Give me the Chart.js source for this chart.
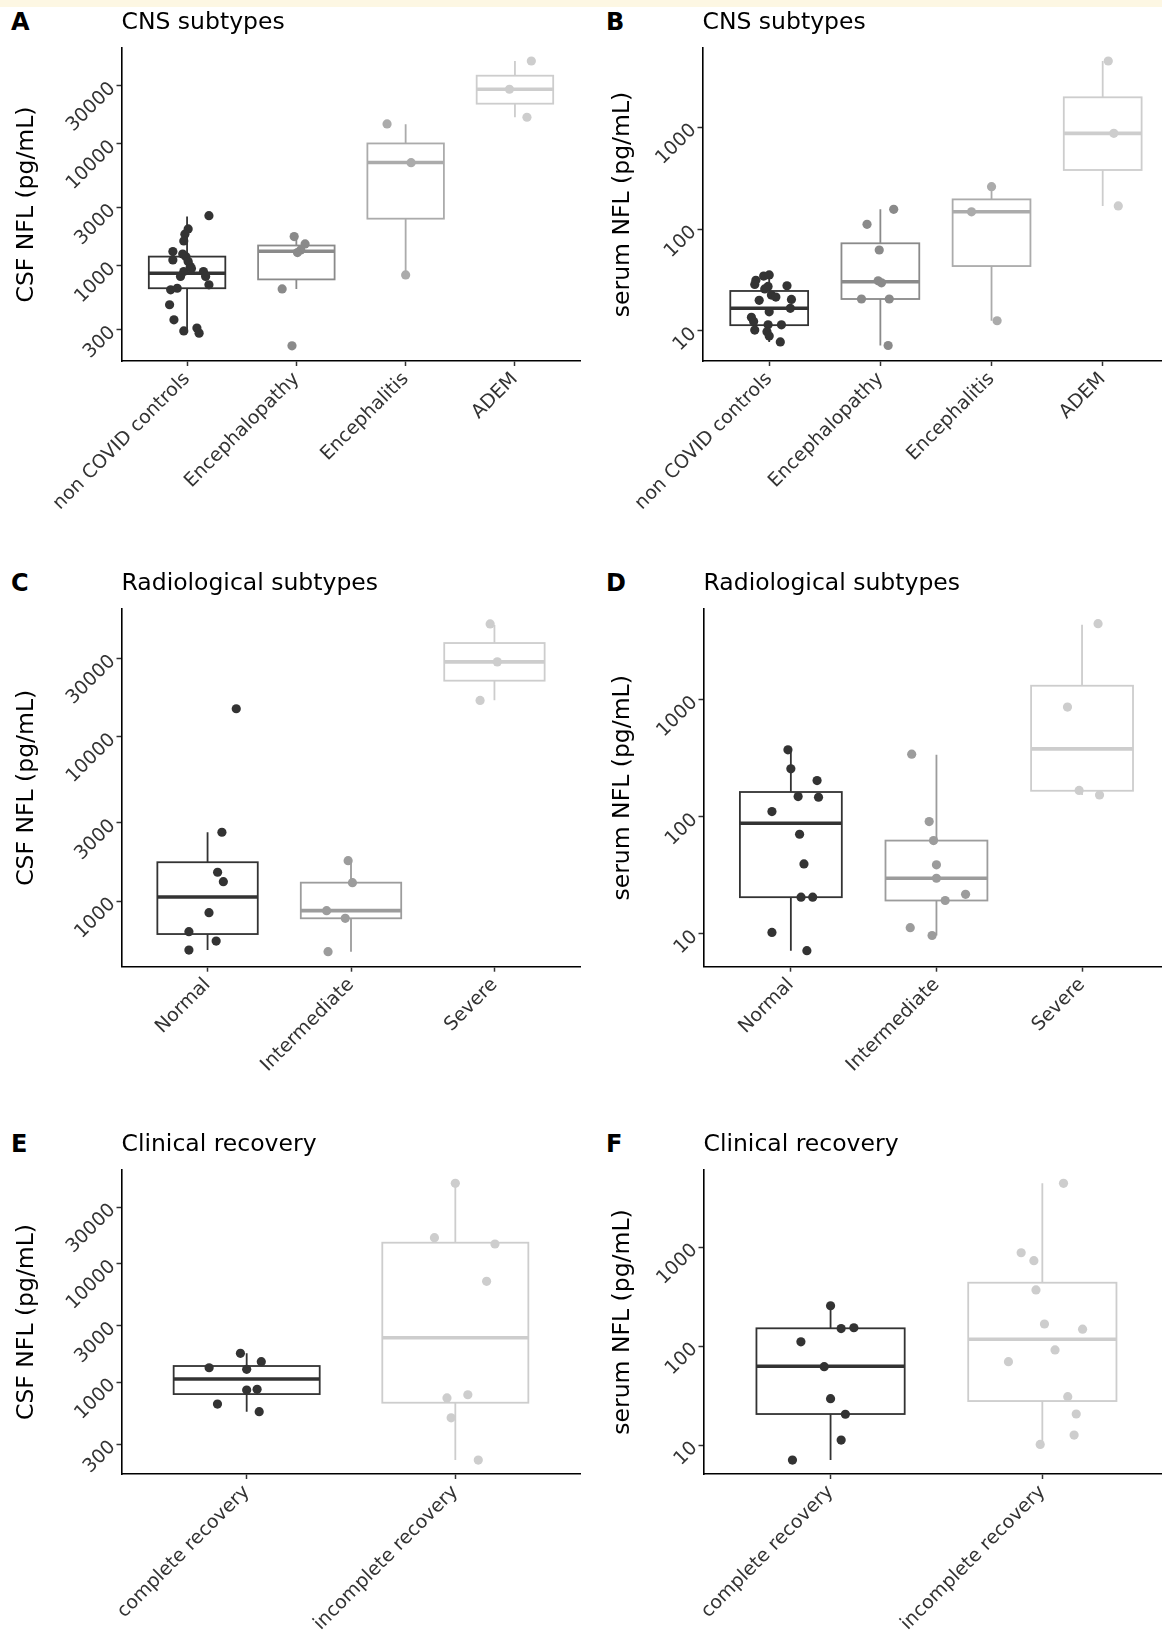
<!DOCTYPE html>
<html>
<head>
<meta charset="utf-8">
<script src="https://cdn.jsdelivr.net/npm/chart.js@4.4.1/dist/chart.umd.min.js"></script>
<style>
  html, body { margin: 0; padding: 0; background: #fff; }
  body { position: relative; width: 1162px; height: 1639px; overflow: hidden; }
  .strip { position: absolute; left: 0; top: 0; width: 1162px; height: 7px; background: #fdf7e3; }
  canvas { position: absolute; }
  .lett { position: absolute; font: bold 24px 'DejaVu Sans', sans-serif; line-height: 24px; color: #000; }
</style>
</head>
<body>
<div class="strip"></div>
<div class="lett" style="left:11px;top:10px">A</div>
<div class="lett" style="left:606px;top:10px">B</div>
<div class="lett" style="left:11px;top:571px">C</div>
<div class="lett" style="left:606px;top:571px">D</div>
<div class="lett" style="left:11px;top:1132px">E</div>
<div class="lett" style="left:606px;top:1132px">F</div>

<canvas id="pA" width="590" height="561" style="left:0;top:0"></canvas>
<canvas id="pB" width="592" height="561" style="left:582px;top:0"></canvas>
<canvas id="pC" width="590" height="561" style="left:0;top:561px"></canvas>
<canvas id="pD" width="592" height="561" style="left:582px;top:561px"></canvas>
<canvas id="pE" width="590" height="517" style="left:0;top:1122px"></canvas>
<canvas id="pF" width="592" height="517" style="left:582px;top:1122px"></canvas>

<script>
// categories
const cnsGroups = ['non COVID controls', 'Encephalopathy', 'Encephalitis', 'ADEM'];
const radioGroups = ['Normal', 'Intermediate', 'Severe'];
const recoveryGroups = ['complete recovery', 'incomplete recovery'];

// tick labels
const csfTicks = [300, 1000, 3000, 10000, 30000];
const serumTicks = [10, 100, 1000];

// A: CSF NfL by CNS subtype (pg/mL)
const csfCnsVals = [
  [2580, 2010, 1820, 1600, 1310, 1120, 1190, 1085, 990, 900, 820, 900, 820, 700, 636, 656, 480, 361, 293, 309, 281, 950, 1250],
  [1740, 1515, 1353, 1286, 648, 221],
  [14590, 7030, 844],
  [47900, 16560, 28100]
];
const csfCnsJit = [
  [0.20, 0.01, -0.02, -0.03, -0.13, -0.13, -0.01, 0.01, 0.03, -0.03, -0.06, 0.15, 0.17, 0.20, -0.15, -0.09, -0.16, -0.12, -0.03, 0.09, 0.11, 0.04, -0.04],
  [-0.02, 0.08, 0.04, 0.01, -0.13, -0.04],
  [-0.17, 0.05, 0.00],
  [0.15, 0.11, -0.05]
];
// whisker low, q1, median, q3, whisker high
const csfCnsBox = [
  [282, 656, 871, 1192, 2540],
  [648, 775, 1320, 1470, 1740],
  [844, 2440, 7050, 10100, 14500],
  [16600, 21400, 28100, 36300, 47900]
];

// B: serum NfL by CNS subtype
const serumCnsVals = [
  [34.6, 35.5, 31.4, 28.6, 27.4, 27.8, 25.9, 22.5, 20.0, 20.4, 15.4, 16.7, 13.6, 12.4, 11.5, 11.5, 10.2, 9.8, 8.9, 7.8, 21.5],
  [156.6, 111.5, 62.4, 31.1, 29.7, 20.6, 20.6, 7.2],
  [261, 148, 12.6],
  [4480, 873, 169]
];
const serumCnsJit = [
  [-0.05, 0.00, -0.12, -0.13, -0.01, 0.16, -0.04, 0.02, -0.09, 0.20, 0.00, 0.19, -0.16, -0.14, -0.01, 0.11, -0.13, -0.02, 0.00, 0.10, 0.06],
  [0.12, -0.12, -0.01, -0.02, 0.01, -0.17, 0.08, 0.07],
  [0.00, -0.18, 0.05],
  [0.05, 0.10, 0.14]
];
const serumCnsBox = [
  [7.8, 11.4, 16.7, 24.7, 35.5],
  [7.2, 20.6, 30.4, 72.6, 156.6],
  [12.6, 43.4, 148, 196, 261],
  [169, 381, 873, 1971, 4480]
];

// C: CSF NfL by radiological subtype
const csfRadioVals = [
  [14830, 2630, 1502, 1316, 852, 653, 573, 505],
  [1766, 1298, 877, 788, 494],
  [48640, 16670, 28600]
];
const csfRadioJit = [
  [0.20, 0.10, 0.07, 0.11, 0.01, -0.13, 0.06, -0.13],
  [-0.02, 0.01, -0.17, -0.04, -0.16],
  [-0.03, -0.10, 0.02]
];
const csfRadioBox = [
  [505, 632, 1062, 1728, 2630],
  [494, 788, 877, 1298, 1766],
  [16700, 21980, 28600, 37240, 48000]
];

// D: serum NfL by radiological subtype
const serumRadioVals = [
  [374, 257, 204, 149, 147, 111, 71, 39.6, 20.6, 20.6, 10.3, 7.2],
  [343, 91.2, 62.7, 38.9, 29.9, 21.8, 19.3, 11.3, 9.7],
  [4465, 866, 168, 154]
];
const serumRadioJit = [
  [-0.02, 0.00, 0.18, 0.05, 0.19, -0.13, 0.06, 0.09, 0.07, 0.15, -0.13, 0.11],
  [-0.17, -0.05, -0.02, 0.00, 0.00, 0.20, 0.06, -0.18, -0.03],
  [0.11, -0.10, -0.02, 0.12]
];
const serumRadioBox = [
  [7.2, 20.6, 88.3, 163, 374],
  [9.7, 19.3, 29.9, 62.7, 339],
  [154, 167, 381, 1318, 4380]
];

// E: CSF NfL by clinical recovery
const csfRecVals = [
  [1757, 1493, 1328, 1288, 861, 873, 656, 565],
  [47750, 16600, 14690, 7115, 738, 786, 502, 221]
];
const csfRecJit = [
  [-0.03, 0.07, -0.18, 0.00, 0.00, 0.05, -0.14, 0.06],
  [0.00, -0.10, 0.19, 0.15, -0.04, 0.06, -0.02, 0.11]
];
const csfRecBox = [
  [565, 796, 1066, 1373, 1757],
  [221, 673, 2377, 15070, 47750]
];

// F: serum NfL by clinical recovery
const serumRecVals = [
  [257, 151, 154, 111, 62.2, 29.6, 20.6, 11.3, 7.1],
  [4426, 881, 733, 371, 168, 149, 91.9, 69.9, 31, 20.7, 12.7, 10.2]
];
const serumRecJit = [
  [0.00, 0.05, 0.11, -0.14, -0.03, 0.00, 0.07, 0.05, -0.18],
  [0.10, -0.10, -0.04, -0.03, 0.01, 0.19, 0.06, -0.16, 0.12, 0.16, 0.15, -0.01]
];
const serumRecBox = [
  [7.1, 20.7, 62.8, 152, 257],
  [10.2, 28, 118, 439, 4426]
];

const greys4 = ['#333333', '#8a8a8a', '#ababab', '#cdcdcd'];
const greys3 = ['#333333', '#9c9c9c', '#cdcdcd'];
const greys2 = ['#333333', '#cdcdcd'];

Chart.defaults.font.family = "'DejaVu Sans', sans-serif";
Chart.defaults.animation = false;

// draws whiskers, box and median line under the points
const boxPlugin = {
  id: 'boxes',
  beforeDatasetsDraw(chart, args, opts) {
    const ctx = chart.ctx;
    const xs = chart.scales.x, ys = chart.scales.y;
    ctx.save();
    opts.stats.forEach((st, i) => {
      const cx = xs.getPixelForValue(i + 1);
      const l = xs.getPixelForValue(i + 1 - opts.width / 2);
      const r = xs.getPixelForValue(i + 1 + opts.width / 2);
      const [lo, q1, med, q3, hi] = st.map(v => ys.getPixelForValue(v));
      ctx.strokeStyle = opts.colors[i];
      ctx.lineWidth = 1.8;
      ctx.beginPath();
      ctx.moveTo(cx, q3); ctx.lineTo(cx, hi);
      ctx.moveTo(cx, q1); ctx.lineTo(cx, lo);
      ctx.stroke();
      ctx.fillStyle = '#fff';
      ctx.fillRect(l, q3, r - l, q1 - q3);
      ctx.strokeRect(l, q3, r - l, q1 - q3);
      ctx.lineWidth = 3.6;
      ctx.beginPath();
      ctx.moveTo(l, med); ctx.lineTo(r, med);
      ctx.stroke();
    });
    ctx.restore();
  }
};

function panel(id, p) {
  const axisGrid = { display: true, drawOnChartArea: false, drawTicks: true, tickLength: 5, tickColor: '#333', tickWidth: 1.5 };
  const axisBorder = { display: true, color: '#000', width: 1.6 };
  new Chart(document.getElementById(id), {
    type: 'scatter',
    data: {
      datasets: p.vals.map((vals, i) => ({
        data: vals.map((v, k) => ({ x: i + 1 + p.jit[i][k], y: v })),
        backgroundColor: p.greys[i],
        borderWidth: 0,
        pointRadius: 4.6,
        pointHoverRadius: 4.6
      }))
    },
    options: {
      responsive: false,
      events: [],
      layout: { padding: { top: 0, left: 0, bottom: 0, right: p.padR } },
      plugins: {
        legend: { display: false },
        tooltip: { enabled: false },
        title: {
          display: true, text: p.title, align: 'start', fullSize: false,
          color: '#000', font: { size: 23.5, weight: 'normal' },
          padding: { top: 8.9, bottom: 10.9 }
        },
        boxes: { stats: p.box, colors: p.greys, width: 0.7 }
      },
      scales: {
        x: {
          type: 'linear', bounds: 'data',
          min: 0.4, max: p.cats.length + 0.6,
          afterBuildTicks: s => { s.ticks = p.cats.map((c, i) => ({ value: i + 1 })); },
          afterFit: s => { s.height = p.xh; },
          grid: axisGrid,
          border: axisBorder,
          ticks: {
            autoSkip: false, minRotation: 45, maxRotation: 45, padding: 2,
            color: '#333', font: { size: 19 },
            callback: v => p.cats[v - 1]
          }
        },
        y: {
          type: 'logarithmic', bounds: 'data',
          min: p.yMin, max: p.yMax,
          afterBuildTicks: s => {
            s.ticks = p.yTicks.filter(t => t >= p.yMin && t <= p.yMax).map(t => ({ value: t }));
          },
          afterFit: s => { s.width = p.yw; },
          grid: axisGrid,
          border: axisBorder,
          ticks: {
            minRotation: 45, maxRotation: 45, padding: 4,
            color: '#333', font: { size: 19 },
            callback: v => String(v)
          },
          title: {
            display: true, text: p.yTitle, color: '#000',
            font: { size: 23.5 }, padding: { top: p.tp, bottom: 0 }
          }
        }
      }
    },
    plugins: [boxPlugin]
  });
}

panel('pA', {
  title: 'CNS subtypes', yTitle: 'CSF NFL (pg/mL)', cats: cnsGroups,
  vals: csfCnsVals, jit: csfCnsJit, box: csfCnsBox, greys: greys4,
  yMin: 166, yMax: 61240, yTicks: csfTicks,
  yw: 121.5, xh: 200, padR: 9.5, tp: 12.9
});
panel('pB', {
  title: 'CNS subtypes', yTitle: 'serum NFL (pg/mL)', cats: cnsGroups,
  vals: serumCnsVals, jit: serumCnsJit, box: serumCnsBox, greys: greys4,
  yMin: 5.07, yMax: 6012, yTicks: serumTicks,
  yw: 120.5, xh: 200, padR: 0, tp: 26.9
});
panel('pC', {
  title: 'Radiological subtypes', yTitle: 'CSF NFL (pg/mL)', cats: radioGroups,
  vals: csfRadioVals, jit: csfRadioJit, box: csfRadioBox, greys: greys3,
  yMin: 400, yMax: 59980, yTicks: csfTicks,
  yw: 121.5, xh: 155.3, padR: 9.5, tp: 12.9
});
panel('pD', {
  title: 'Radiological subtypes', yTitle: 'serum NFL (pg/mL)', cats: radioGroups,
  vals: serumRadioVals, jit: serumRadioJit, box: serumRadioBox, greys: greys3,
  yMin: 5.25, yMax: 5960, yTicks: serumTicks,
  yw: 121.5, xh: 155.3, padR: 3, tp: 26.9
});
panel('pE', {
  title: 'Clinical recovery', yTitle: 'CSF NFL (pg/mL)', cats: recoveryGroups,
  vals: csfRecVals, jit: csfRecJit, box: csfRecBox, greys: greys2,
  yMin: 168.5, yMax: 61870, yTicks: csfTicks,
  yw: 121.5, xh: 165, padR: 9.5, tp: 12.9
});
panel('pF', {
  title: 'Clinical recovery', yTitle: 'serum NFL (pg/mL)', cats: recoveryGroups,
  vals: serumRecVals, jit: serumRecJit, box: serumRecBox, greys: greys2,
  yMin: 5.13, yMax: 6040, yTicks: serumTicks,
  yw: 121.5, xh: 165, padR: 4, tp: 26.9
});
</script>
</body>
</html>
